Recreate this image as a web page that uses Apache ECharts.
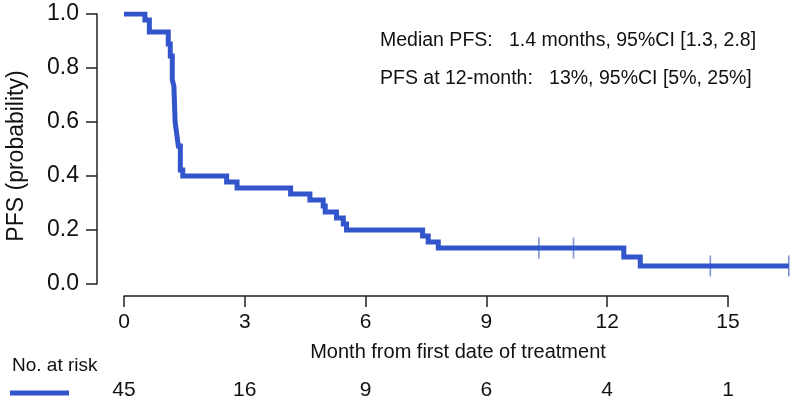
<!DOCTYPE html>
<html>
<head>
<meta charset="utf-8">
<script src="https://cdn.jsdelivr.net/npm/echarts@6/dist/echarts.min.js"></script>
<style>
    html, body { margin: 0; padding: 0; background: #fff; }
    #container { width: 800px; height: 406px; }
</style>
</head>
<body>
<div id="container"></div>
<script>
// KM 曲线数据
var months = [0, 0.52, 0.63, 1.10, 1.15, 1.20, 1.24, 1.27, 1.31, 1.35, 1.40, 1.46, 2.55, 2.81, 4.14, 4.62, 4.95, 5.00, 5.28, 5.45, 5.53, 7.42, 7.56, 7.81, 12.42, 12.83, 16.52];
var pfs = [1.000, 0.978, 0.933, 0.889, 0.844, 0.756, 0.733, 0.600, 0.556, 0.511, 0.422, 0.400, 0.378, 0.356, 0.333, 0.311, 0.289, 0.267, 0.244, 0.222, 0.200, 0.178, 0.156, 0.133, 0.100, 0.067, 0.067];
// 删失点
var censorMonths = [10.31, 11.17, 14.57, 16.52];
var censorPfs = [0.133, 0.133, 0.067, 0.067];
// 坐标刻度 / 风险人数
var xTicks = [0, 3, 6, 9, 12, 15];
var atRisk = [45, 16, 9, 6, 4, 1];
var yTicks = [0.0, 0.2, 0.4, 0.6, 0.8, 1.0];
var notes = ['Median PFS:   1.4 months, 95%CI [1.3, 2.8]', 'PFS at 12-month:   13%, 95%CI [5%, 25%]'];

var blue = '#3355cc';
var font = '"Liberation Sans", Arial, sans-serif';

var curve = months.map(function (m, i) { return [m, pfs[i]]; });
var censor = censorMonths.map(function (m, i) { return [m, censorPfs[i]]; });

var myChart = echarts.init(document.getElementById('container'));
var option = {
    animation: false,
    backgroundColor: '#fff',
    grid: [
        { left: 124, top: 14, width: 668, height: 270 },
        { left: 124, top: 296, width: 604, height: 0 }
    ],
    xAxis: [
        {
            gridIndex: 0, type: 'value', min: 0, max: 16.6,
            axisLine: { show: false }, axisTick: { show: false },
            axisLabel: { show: false }, splitLine: { show: false },
            name: 'Month from first date of treatment',
            nameLocation: 'middle', nameGap: 58,
            nameTextStyle: { fontFamily: font, fontSize: 20, color: '#111' }
        },
        {
            gridIndex: 1, type: 'value', position: 'bottom', min: 0, max: 15, interval: 3,
            axisLine: { onZero: false, lineStyle: { color: '#222', width: 1.5 } },
            axisTick: { length: 11, lineStyle: { color: '#222', width: 1.5 } },
            axisLabel: { margin: 16, fontFamily: font, fontSize: 21, color: '#111' },
            splitLine: { show: false }
        },
        {
            gridIndex: 1, type: 'value', position: 'bottom', min: 0, max: 15, interval: 3, offset: 84,
            axisLine: { show: false, onZero: false }, axisTick: { show: false }, splitLine: { show: false },
            axisLabel: {
                margin: 0, fontFamily: font, fontSize: 21, color: '#111',
                formatter: function (v) { return atRisk[xTicks.indexOf(v)]; }
            }
        }
    ],
    yAxis: [
        {
            gridIndex: 0, type: 'value', min: 0, max: 1, interval: 0.2, offset: 27,
            axisLine: { show: true, onZero: false, lineStyle: { color: '#222', width: 1.5 } },
            axisTick: { show: true, length: 11, lineStyle: { color: '#222', width: 1.5 } },
            axisLabel: {
                margin: 18, fontFamily: font, fontSize: 23, color: '#111',
                formatter: function (v) { return v.toFixed(1); }
            },
            splitLine: { show: false }
        },
        { gridIndex: 1, type: 'value', show: false }
    ],
    series: [
        {
            type: 'line', xAxisIndex: 0, yAxisIndex: 0, step: 'end',
            data: curve, showSymbol: false, symbol: 'none',
            lineStyle: { color: blue, width: 5, join: 'miter' }
        },
        {
            type: 'scatter', xAxisIndex: 0, yAxisIndex: 0,
            data: censor, symbol: 'rect', symbolSize: [1.6, 21],
            itemStyle: { color: '#5b77cf' }
        }
    ],
    graphic: [
        {
            type: 'text', x: 17, y: 156, rotation: Math.PI / 2,
            style: { text: 'PFS (probability)', font: '23px ' + font, fill: '#111', align: 'center', verticalAlign: 'middle' }
        },
        { type: 'text', left: 380, top: 31, style: { text: notes[0], font: '19.5px ' + font, fill: '#111' } },
        { type: 'text', left: 380, top: 69, style: { text: notes[1], font: '19.5px ' + font, fill: '#111' } },
        { type: 'text', left: 12, top: 356, style: { text: 'No. at risk', font: '19px ' + font, fill: '#111' } },
        { type: 'line', shape: { x1: 10, y1: 393, x2: 69, y2: 393 }, style: { stroke: blue, lineWidth: 5 } }
    ]
};
if (option && typeof option === 'object') {
    myChart.setOption(option, true);
}
</script>
</body>
</html>
